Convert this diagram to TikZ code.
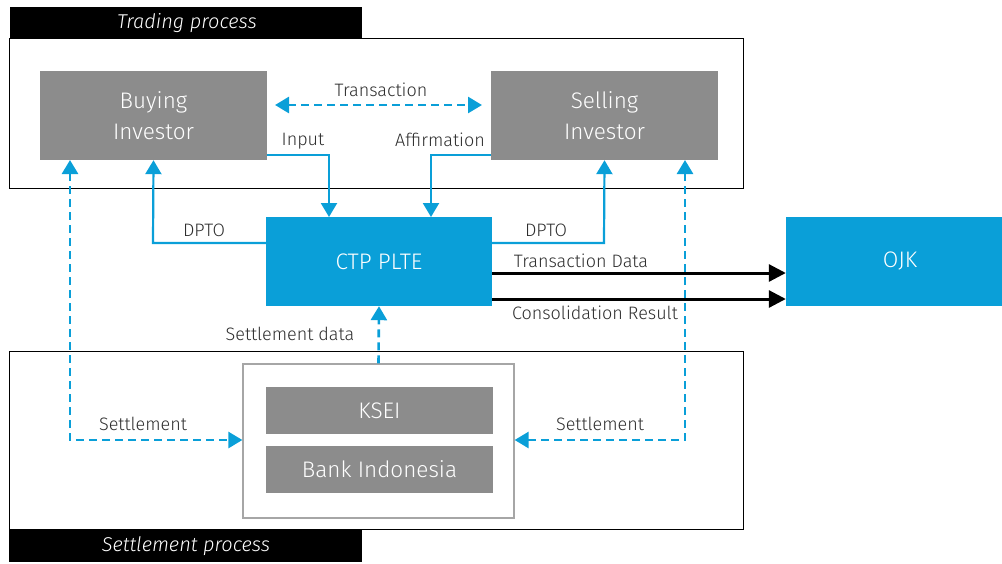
\documentclass[tikz,border=0pt]{standalone}
\usepackage{fontspec}
\setmainfont{Fira Sans}[UprightFont={* Light}, ItalicFont={* Light Italic}]
\usetikzlibrary{arrows.meta}
\definecolor{ctpblue}{HTML}{0A9FD8}
\definecolor{boxgray}{HTML}{8C8C8C}
\definecolor{txtgray}{HTML}{2E2E2E}
\tikzset{
  graybox/.style={fill=boxgray, draw=none, text=white, align=center, font=\fontsize{22.5}{31}\selectfont},
  bluebox/.style={fill=ctpblue, draw=none, text=white, align=center, font=\fontsize{22.5}{31}\selectfont},
  frame/.style={draw=black, line width=1pt},
  lbl/.style={text=txtgray, font=\fontsize{18}{20}\selectfont, inner sep=0pt},
  ttl/.style={text=white, font=\itshape\fontsize{20}{22}\selectfont},
  tip/.style={-{Triangle[length=14pt,width=16pt]}},
  flow/.style={draw=ctpblue, line width=2.2pt, tip},
  dflow/.style={flow, line width=2.6pt, dash pattern=on 8pt off 5pt},
  blk/.style={draw=black, line width=3pt, -{Triangle[length=17pt,width=17pt]}}
}
\begin{document}
\begin{tikzpicture}[x=1pt,y=-1pt]
\useasboundingbox (0,0) rectangle (1002,563);
% frames
\draw[frame] (9,38) rectangle (743,188);
\fill[black] (10,7) rectangle (362,38);
\node[ttl] (tp) at (187,23) {Trading process};
\draw[frame] (9,351) rectangle (743,529);
\fill[black] (9,529) rectangle (362,562);
\node[ttl] (sp) at (186,546) {Settlement process};
% boxes
\node[graybox, minimum width=227pt, minimum height=89pt] (buy) at (153.5,115.5) {Buying\\Investor};
\node[graybox, minimum width=227pt, minimum height=89pt] (sell) at (604.5,115.5) {Selling\\Investor};
\node[bluebox, minimum width=226pt, minimum height=89pt] (ctp) at (379,261.5) {CTP PLTE};
\node[bluebox, minimum width=216pt, minimum height=89pt] (ojk) at (894,261.5) {\hspace{12pt}OJK};
\node[draw=black!35, line width=1.2pt, minimum width=271pt, minimum height=154pt] (inner) at (378.5,441) {};
\node[graybox, minimum width=227pt, minimum height=47pt] (ksei) at (379.5,410.5) {KSEI};
\node[graybox, minimum width=227pt, minimum height=47pt] (bi) at (379.5,469.5) {Bank Indonesia};
% coordinates
\coordinate (bl) at (70,160);
\coordinate (sr) at (685,160);
% transaction
\draw[dflow, {Triangle[length=14pt,width=16pt]}-{Triangle[length=14pt,width=16pt]}] (275,105) -- (482,105);
\node[lbl] (ltr) at (381,90) {Transaction};
% input / affirmation
\draw[flow] (buy.south east |- 0,155) -- (329,155) -- (329,217);
\node[lbl] (lin) at (303,141) {Input};
\draw[flow] (sell.south west |- 0,155) -- (431,155) -- (431,217);
\node[lbl] (laf) at (440,140) {Affirmation};
% DPTO
\draw[flow] (ctp.west |- 0,243) -- (153,243) -- (buy.south);
\node[lbl] (ld1) at (204,230) {DPTO};
\draw[flow] (ctp.east |- 0,243) -- (604,243) -- (sell.south);
\node[lbl] (ld2) at (546,230) {DPTO};
% to OJK
\draw[blk] (ctp.east |- 0,273) -- (ojk.west |- 0,273);
\node[lbl] (ltd) at (581,261) {Transaction Data};
\draw[blk] (ctp.east |- 0,299) -- (ojk.west |- 0,299);
\node[lbl] (lcr) at (595,313) {Consolidation Result};
% settlement data
\draw[dflow] (inner.north) -- (ctp.south);
\node[lbl] (lsd) at (290,334) {Settlement data};
% settlement dashed
\draw[dflow, {Triangle[length=14pt,width=16pt]}-{Triangle[length=14pt,width=16pt]}] (bl) -- (70,440) -- (inner.west |- 0,440);
\node[lbl] (ls1) at (143,424) {Settlement};
\draw[dflow, {Triangle[length=14pt,width=16pt]}-{Triangle[length=14pt,width=16pt]}] (sr) -- (685,440) -- (inner.east |- 0,440);
\node[lbl] (ls2) at (600,424) {Settlement};
\end{tikzpicture}
\end{document}
